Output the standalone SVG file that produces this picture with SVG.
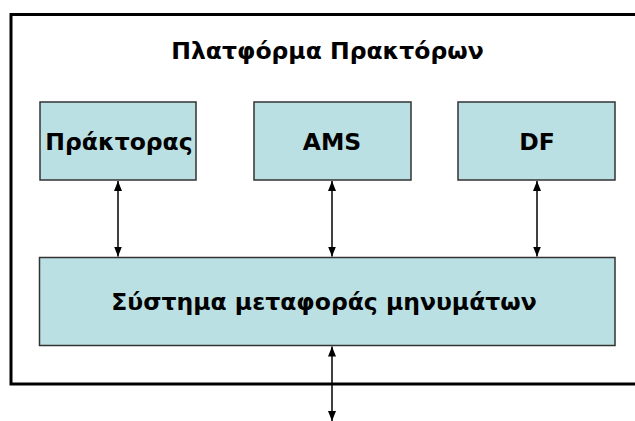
<svg xmlns="http://www.w3.org/2000/svg" width="635" height="421" viewBox="0 0 635 421">
  <defs>
    <style>
      .box { fill: #bbe0e3; stroke: #333333; stroke-width: 1.5; }
      .frame { fill: none; stroke: #000000; stroke-width: 3; }
      .lbl { font-family: "DejaVu Sans", "Liberation Sans", sans-serif; font-weight: bold; font-size: 23.5px; fill: #000000; text-anchor: middle; }
      .link { stroke: #000000; stroke-width: 1.5; fill: none; marker-start: url(#head); marker-end: url(#head); }
    </style>
    <marker id="head" viewBox="0 0 10 8" refX="10" refY="4" markerWidth="10" markerHeight="8" markerUnits="userSpaceOnUse" orient="auto-start-reverse">
      <path d="M0,0 L10,4 L0,8 Z" fill="#000000"/>
    </marker>
  </defs>

  <!-- platform frame (runs off the right edge) -->
  <g id="platform">
    <rect class="frame" x="11" y="14.5" width="640" height="369.5"/>
    <text class="lbl" x="327.5" y="59">Πλατφόρμα Πρακτόρων</text>
  </g>

  <g id="agent">
    <rect class="box" x="40" y="102" width="156" height="78"/>
    <text class="lbl" x="119" y="150">Πράκτορας</text>
  </g>

  <g id="ams">
    <rect class="box" x="254" y="102" width="157" height="78"/>
    <text class="lbl" x="332" y="150">AMS</text>
  </g>

  <g id="df">
    <rect class="box" x="458" y="102" width="157" height="78"/>
    <text class="lbl" x="537" y="150">DF</text>
  </g>

  <g id="mts">
    <rect class="box" x="39.5" y="257.5" width="575.5" height="88"/>
    <text class="lbl" x="324" y="310">Σύστημα μεταφοράς μηνυμάτων</text>
  </g>

  <!-- bidirectional links -->
  <g id="connectors">
    <line class="link" x1="118" y1="181" x2="118" y2="256.5"/>
    <line class="link" x1="332" y1="181" x2="332" y2="256.5"/>
    <line class="link" x1="537" y1="181" x2="537" y2="256.5"/>
    <line class="link" x1="332" y1="346.5" x2="332" y2="421"/>
  </g>
</svg>
